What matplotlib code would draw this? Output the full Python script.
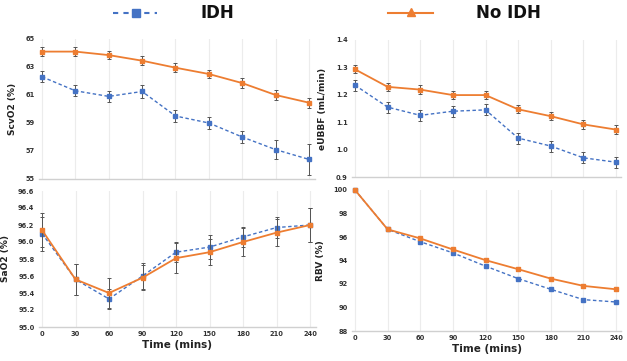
import matplotlib
matplotlib.use("Agg")
import matplotlib.pyplot as plt
from matplotlib.lines import Line2D

time = [0, 30, 60, 90, 120, 150, 180, 210, 240]

scvo2_idh = [62.3, 61.3, 60.9, 61.25, 59.5, 59.0, 58.0, 57.1, 56.4]
scvo2_idh_err = [0.4, 0.4, 0.4, 0.45, 0.4, 0.4, 0.45, 0.7, 1.1]
scvo2_noidh = [64.1, 64.1, 63.85, 63.45, 62.95, 62.5, 61.85, 61.0, 60.45]
scvo2_noidh_err = [0.3, 0.3, 0.3, 0.3, 0.3, 0.3, 0.35, 0.35, 0.35]

eubbf_idh = [1.235, 1.155, 1.125, 1.14, 1.145, 1.042, 1.013, 0.970, 0.954]
eubbf_idh_err = [0.02, 0.02, 0.02, 0.02, 0.02, 0.02, 0.02, 0.02, 0.02]
eubbf_noidh = [1.293, 1.229, 1.219, 1.199, 1.199, 1.147, 1.122, 1.092, 1.073]
eubbf_noidh_err = [0.015, 0.015, 0.015, 0.015, 0.015, 0.015, 0.015, 0.015, 0.015]

sao2_idh = [96.10, 95.56, 95.33, 95.60, 95.88, 95.94, 96.06, 96.17, 96.20]
sao2_idh_err = [0.2, 0.18, 0.12, 0.15, 0.12, 0.14, 0.12, 0.12, 0.2]
sao2_noidh = [96.14, 95.56, 95.40, 95.58, 95.81, 95.88, 96.00, 96.11, 96.20]
sao2_noidh_err = [0.2, 0.18, 0.18, 0.15, 0.18, 0.15, 0.16, 0.16, 0.2]

rbv_idh = [100.0, 96.65, 95.6, 94.65, 93.52, 92.46, 91.55, 90.67, 90.47]
rbv_noidh = [100.0, 96.65, 95.88, 94.94, 94.03, 93.26, 92.46, 91.84, 91.55]
rbv_noidh_err = [0.0, 0.15, 0.15, 0.15, 0.15, 0.15, 0.15, 0.15, 0.15]

BLUE = "#4472C4"
ORANGE = "#ED7D31"
W, H = 627, 361

fig = plt.figure(figsize=(6.27, 3.61), dpi=100)

def make_ax(x0, x240, ytop, ybot):
    # pixel coords: x of data 0 and 240, y (from top) of ylim top and bottom
    ppu = (x240 - x0) / 240.0
    left = x0 - 3 * ppu
    right = x240 + 5 * ppu
    ax = fig.add_axes([left / W, (H - ybot) / H, (right - left) / W, (ybot - ytop) / H])
    ax.set_xlim(-3, 245)
    return ax

def style(ax, yticks, yfmt, ylabel, xlabel=None, show_x=True):
    for s in ["top", "right", "left"]:
        ax.spines[s].set_visible(False)
    ax.spines["bottom"].set_color("#d0d0d0")
    ax.spines["bottom"].set_linewidth(1.0)
    ax.set_yticks(yticks)
    ax.set_yticklabels([yfmt.format(v) for v in yticks])
    ax.set_xticks(time)
    if show_x:
        ax.set_xticklabels([str(t) for t in time])
    else:
        ax.set_xticklabels([])
    ax.tick_params(axis="both", length=0, labelsize=4.8, colors="#333333", pad=3)
    for lab in ax.get_yticklabels() + ax.get_xticklabels():
        lab.set_fontweight("bold")
    ax.grid(axis="x", color="#ececec", linewidth=0.8)
    ax.set_axisbelow(True)
    ax.set_ylabel(ylabel, fontsize=6.5, fontweight="bold", color="#222222", labelpad=6)
    if xlabel:
        ax.set_xlabel(xlabel, fontsize=7.5, fontweight="bold", color="#222222", labelpad=2)

def plot_series(ax, y_idh, e_idh, y_no, e_no, ms=2.6):
    ax.errorbar(time, y_idh, yerr=e_idh, color=BLUE, ls=(0, (2.5, 1.8)), lw=1.0,
                marker="s", ms=ms, mec=BLUE, mfc=BLUE, ecolor="#555555",
                elinewidth=0.7, capsize=1.5, capthick=0.7, clip_on=False, zorder=3)
    ax.errorbar(time, y_no, yerr=e_no, color=ORANGE, ls="-", lw=1.3,
                marker="s", ms=ms, mec=ORANGE, mfc=ORANGE, ecolor="#555555",
                elinewidth=0.7, capsize=1.5, capthick=0.7, clip_on=False, zorder=4)

# Top-left: ScvO2
ax1 = make_ax(42, 309, 39, 179)
ax1.set_ylim(55, 65)
plot_series(ax1, scvo2_idh, scvo2_idh_err, scvo2_noidh, scvo2_noidh_err)
style(ax1, [55, 57, 59, 61, 63, 65], "{:d}", "ScvO2 (%)", show_x=False)

# Top-right: eUBBF
ax2 = make_ax(355, 616, 40, 177)
ax2.set_ylim(0.9, 1.4)
plot_series(ax2, eubbf_idh, eubbf_idh_err, eubbf_noidh, eubbf_noidh_err)
style(ax2, [0.9, 1.0, 1.1, 1.2, 1.3, 1.4], "{:.1f}", "eUBBF (mL/min)", show_x=False)

# Bottom-left: SaO2
ax3 = make_ax(42, 310, 191, 327)
ax3.set_ylim(95.0, 96.6)
plot_series(ax3, sao2_idh, sao2_idh_err, sao2_noidh, sao2_noidh_err)
style(ax3, [95.0, 95.2, 95.4, 95.6, 95.8, 96.0, 96.2, 96.4, 96.6], "{:.1f}", "SaO2 (%)",
      xlabel="Time (mins)")

# Bottom-right: RBV
ax4 = make_ax(355, 616, 190, 331)
ax4.set_ylim(88, 100)
plot_series(ax4, rbv_idh, [0] * len(rbv_idh), rbv_noidh, rbv_noidh_err)
style(ax4, [88, 90, 92, 94, 96, 98, 100], "{:d}", "RBV (%)", xlabel="Time (mins)")

# Legend (figure-level)
def fx(px):
    return px / W

def fy(py):
    return (H - py) / H

fig.add_artist(Line2D([fx(113), fx(157)], [fy(13), fy(13)], color=BLUE, lw=1.5,
                      ls=(0, (2.5, 2.5)), transform=fig.transFigure))
fig.add_artist(Line2D([fx(136)], [fy(13)], color=BLUE, marker="s", ms=6,
                      transform=fig.transFigure))
fig.text(fx(201), fy(13), "IDH", fontsize=12, fontweight="bold", va="center", ha="left",
         color="#111111")
fig.add_artist(Line2D([fx(388), fx(433)], [fy(13), fy(13)], color=ORANGE, lw=1.5,
                      transform=fig.transFigure))
fig.add_artist(Line2D([fx(411)], [fy(12)], color=ORANGE, marker="^", ms=6,
                      transform=fig.transFigure))
fig.text(fx(476), fy(13), "No IDH", fontsize=12, fontweight="bold", va="center", ha="left",
         color="#111111")

fig.savefig("out.png", dpi=100)
